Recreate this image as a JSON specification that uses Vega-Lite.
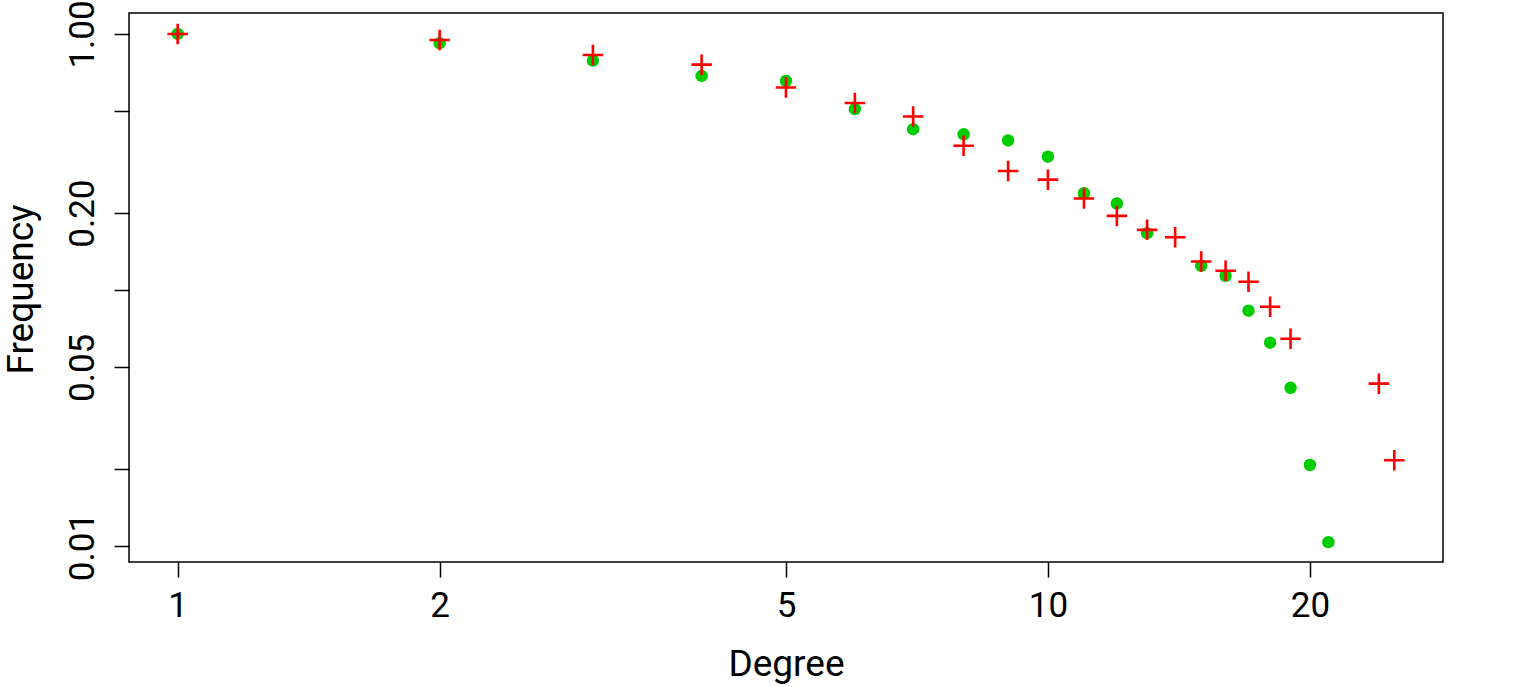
{
  "$schema": "https://vega.github.io/schema/vega-lite/v6.json",
  "width": 1314,
  "height": 549,
  "autosize": {"type": "none"},
  "padding": {"left": 129, "top": 13, "right": 89, "bottom": 125},
  "background": "white",
  "config": {
    "view": {"stroke": "black", "strokeWidth": 1.5},
    "font": "Roboto",
    "axis": {"grid": false, "domain": false, "tickColor": "black", "tickWidth": 1.5, "tickSize": 15, "labelColor": "black", "titleColor": "black", "labelFont": "Roboto", "titleFont": "Roboto", "labelFontSize": 35, "titleFontSize": 37, "titleFontWeight": "normal", "labelFlush": false, "labelOverlap": false}
  },
  "data": {
    "values": [
      {"degree": 1, "freq": 1.0, "series": "observed"},
      {"degree": 2, "freq": 0.920, "series": "observed"},
      {"degree": 3, "freq": 0.787, "series": "observed"},
      {"degree": 4, "freq": 0.686, "series": "observed"},
      {"degree": 5, "freq": 0.656, "series": "observed"},
      {"degree": 6, "freq": 0.509, "series": "observed"},
      {"degree": 7, "freq": 0.425, "series": "observed"},
      {"degree": 8, "freq": 0.406, "series": "observed"},
      {"degree": 9, "freq": 0.384, "series": "observed"},
      {"degree": 10, "freq": 0.332, "series": "observed"},
      {"degree": 11, "freq": 0.239, "series": "observed"},
      {"degree": 12, "freq": 0.218, "series": "observed"},
      {"degree": 13, "freq": 0.167, "series": "observed"},
      {"degree": 15, "freq": 0.1246, "series": "observed"},
      {"degree": 16, "freq": 0.1139, "series": "observed"},
      {"degree": 17, "freq": 0.0832, "series": "observed"},
      {"degree": 18, "freq": 0.0624, "series": "observed"},
      {"degree": 19, "freq": 0.0416, "series": "observed"},
      {"degree": 20, "freq": 0.0208, "series": "observed"},
      {"degree": 21, "freq": 0.0104, "series": "observed"},
      {"degree": 1, "freq": 1.0, "series": "model"},
      {"degree": 2, "freq": 0.9475, "series": "model"},
      {"degree": 3, "freq": 0.828, "series": "model"},
      {"degree": 4, "freq": 0.759, "series": "model"},
      {"degree": 5, "freq": 0.618, "series": "model"},
      {"degree": 6, "freq": 0.538, "series": "model"},
      {"degree": 7, "freq": 0.476, "series": "model"},
      {"degree": 8, "freq": 0.366, "series": "model"},
      {"degree": 9, "freq": 0.292, "series": "model"},
      {"degree": 10, "freq": 0.270, "series": "model"},
      {"degree": 11, "freq": 0.228, "series": "model"},
      {"degree": 12, "freq": 0.195, "series": "model"},
      {"degree": 13, "freq": 0.172, "series": "model"},
      {"degree": 14, "freq": 0.161, "series": "model"},
      {"degree": 15, "freq": 0.1295, "series": "model"},
      {"degree": 16, "freq": 0.1191, "series": "model"},
      {"degree": 17, "freq": 0.1079, "series": "model"},
      {"degree": 18, "freq": 0.0862, "series": "model"},
      {"degree": 19, "freq": 0.0647, "series": "model"},
      {"degree": 24, "freq": 0.0432, "series": "model"},
      {"degree": 25, "freq": 0.0217, "series": "model"}
    ]
  },
  "encoding": {
    "x": {
      "field": "degree", "type": "quantitative", "title": "Degree",
      "scale": {"type": "log", "domain": [0.8792, 28.44], "nice": false, "zero": false},
      "axis": {"values": [1, 2, 5, 10, 20], "format": "d", "labelPadding": 11, "labelBaseline": "top", "titleBaseline": "alphabetic", "titleY": 113.5, "titleX": 657}
    },
    "y": {
      "field": "freq", "type": "quantitative", "title": "Frequency",
      "scale": {"type": "log", "domain": [0.0087, 1.207], "nice": false, "zero": false},
      "axis": {"values": [0.01, 0.02, 0.05, 0.1, 0.2, 0.5, 1], "format": ".2f", "labelExpr": "indexof(['1.00','0.20','0.05','0.01'], datum.label) >= 0 ? datum.label : ''", "labelAngle": -90, "labelAlign": "center", "labelBaseline": "alphabetic", "labelPadding": 21, "titleAngle": -90, "titleBaseline": "alphabetic", "titleAlign": "center", "titleX": -97, "titleY": 276}
    }
  },
  "layer": [
    {
      "transform": [{"filter": "datum.series === 'observed'"}],
      "mark": {"type": "point", "shape": "circle", "filled": true, "fill": "#00CD00", "stroke": null, "strokeWidth": 0, "size": 155, "opacity": 1}
    },
    {
      "transform": [{"filter": "datum.series === 'model'"}],
      "mark": {"type": "point", "shape": "M-1,0H1M0,-1V1", "filled": false, "stroke": "#FF0000", "strokeWidth": 2.6, "size": 420, "opacity": 1}
    }
  ]
}
